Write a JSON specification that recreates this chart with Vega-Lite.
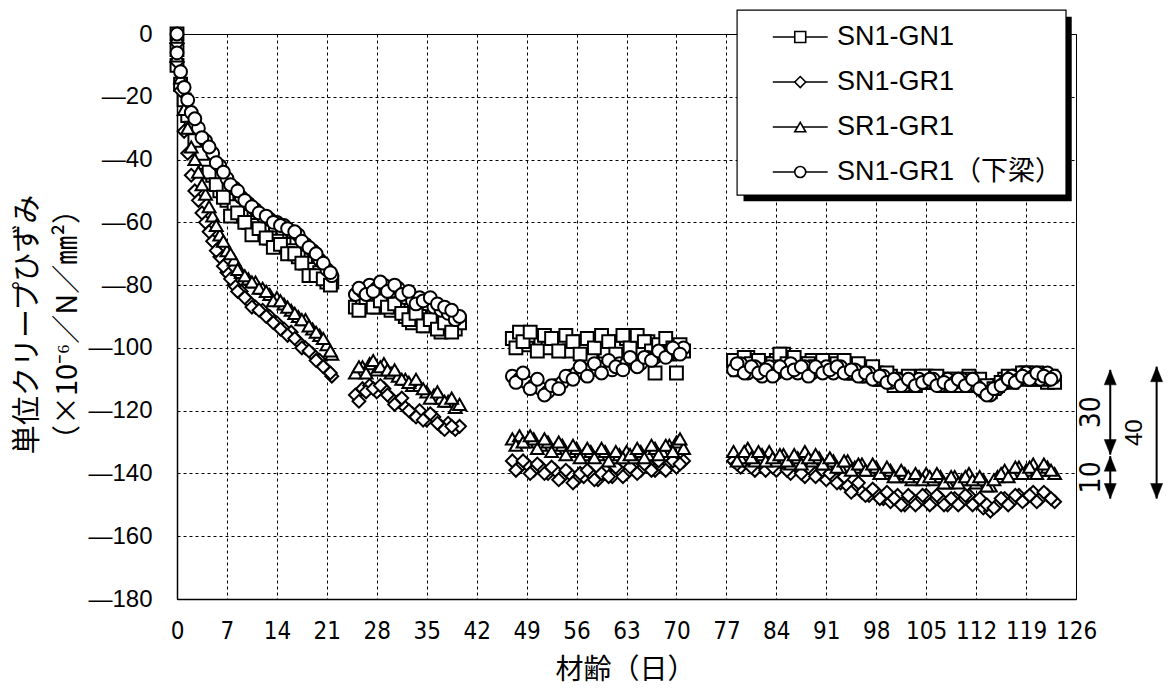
{
  "$schema": "https://vega.github.io/schema/vega-lite/v6.json",
  "width": 899,
  "height": 565,
  "autosize": {"type": "none"},
  "padding": {"left": 177, "top": 34, "right": 95, "bottom": 96},
  "background": "white",
  "config": {
    "view": {"stroke": "black", "strokeWidth": 1},
    "axis": {
      "grid": true,
      "gridColor": "black",
      "gridDash": [3, 3],
      "gridWidth": 1,
      "gridOpacity": 1,
      "domainColor": "black",
      "domainWidth": 1.5,
      "ticks": false,
      "labelColor": "black",
      "labelOverlap": false,
      "labelFlush": false,
      "titleColor": "black",
      "titleFontWeight": "normal",
      "titleFont": "Noto Sans CJK JP"
    }
  },
  "datasets": {
    "creep": [
      {"s":"SN1-GN1","d":0,"v":0},{"s":"SN1-GN1","d":0,"v":-5},{"s":"SN1-GN1","d":0,"v":-10},{"s":"SN1-GN1","d":0.5,"v":-16},{"s":"SN1-GN1","d":1,"v":-21},{"s":"SN1-GN1","d":1.5,"v":-26},{"s":"SN1-GN1","d":2,"v":-30},{"s":"SN1-GN1","d":3,"v":-36},{"s":"SN1-GN1","d":4,"v":-41},{"s":"SN1-GN1","d":5,"v":-45},{"s":"SN1-GN1","d":6,"v":-50},{"s":"SN1-GN1","d":7,"v":-53},{"s":"SN1-GN1","d":8,"v":-55},{"s":"SN1-GN1","d":9,"v":-58},{"s":"SN1-GN1","d":10,"v":-60},{"s":"SN1-GN1","d":11,"v":-61},{"s":"SN1-GN1","d":12,"v":-63},{"s":"SN1-GN1","d":13,"v":-65},{"s":"SN1-GN1","d":14,"v":-66},{"s":"SN1-GN1","d":15,"v":-67},{"s":"SN1-GN1","d":16,"v":-69},{"s":"SN1-GN1","d":17,"v":-71},{"s":"SN1-GN1","d":18,"v":-73},{"s":"SN1-GN1","d":19,"v":-75},{"s":"SN1-GN1","d":20,"v":-76},{"s":"SN1-GN1","d":21,"v":-79},{"s":"SN1-GN1","d":21.7,"v":-79},
      {"s":"SN1-GN1","d":2.5,"v":-34},{"s":"SN1-GN1","d":3.5,"v":-38},{"s":"SN1-GN1","d":4.5,"v":-44},{"s":"SN1-GN1","d":5.5,"v":-48},{"s":"SN1-GN1","d":6.5,"v":-52},{"s":"SN1-GN1","d":7.5,"v":-58},{"s":"SN1-GN1","d":8.5,"v":-57},{"s":"SN1-GN1","d":9.5,"v":-60},{"s":"SN1-GN1","d":10.5,"v":-64},{"s":"SN1-GN1","d":11.5,"v":-62},{"s":"SN1-GN1","d":12.5,"v":-65},{"s":"SN1-GN1","d":13.5,"v":-68},{"s":"SN1-GN1","d":14.5,"v":-67},{"s":"SN1-GN1","d":15.5,"v":-70},{"s":"SN1-GN1","d":16.5,"v":-70},{"s":"SN1-GN1","d":17.5,"v":-73},{"s":"SN1-GN1","d":18.5,"v":-77},{"s":"SN1-GN1","d":19.5,"v":-77},{"s":"SN1-GN1","d":20.5,"v":-78},{"s":"SN1-GN1","d":21.5,"v":-80},
      {"s":"SN1-GN1","d":25,"v":-87},{"s":"SN1-GN1","d":26,"v":-86},{"s":"SN1-GN1","d":27,"v":-85},{"s":"SN1-GN1","d":28,"v":-87},{"s":"SN1-GN1","d":29,"v":-85},{"s":"SN1-GN1","d":30,"v":-88},{"s":"SN1-GN1","d":31,"v":-87},{"s":"SN1-GN1","d":32,"v":-90},{"s":"SN1-GN1","d":33,"v":-92},{"s":"SN1-GN1","d":34,"v":-90},{"s":"SN1-GN1","d":35,"v":-93},{"s":"SN1-GN1","d":36,"v":-92},{"s":"SN1-GN1","d":37,"v":-95},{"s":"SN1-GN1","d":38,"v":-93},{"s":"SN1-GN1","d":39,"v":-94},{"s":"SN1-GN1","d":39.6,"v":-92},
      {"s":"SN1-GN1","d":25.5,"v":-88},{"s":"SN1-GN1","d":26.5,"v":-84},{"s":"SN1-GN1","d":27.5,"v":-87},{"s":"SN1-GN1","d":28.5,"v":-85},{"s":"SN1-GN1","d":29.5,"v":-87},{"s":"SN1-GN1","d":30.5,"v":-86},{"s":"SN1-GN1","d":31.5,"v":-89},{"s":"SN1-GN1","d":32.5,"v":-91},{"s":"SN1-GN1","d":33.5,"v":-89},{"s":"SN1-GN1","d":34.5,"v":-93},{"s":"SN1-GN1","d":35.5,"v":-91},{"s":"SN1-GN1","d":36.5,"v":-94},{"s":"SN1-GN1","d":37.5,"v":-92},{"s":"SN1-GN1","d":38.5,"v":-95},
      {"s":"SN1-GN1","d":47,"v":-97},{"s":"SN1-GN1","d":48,"v":-95},{"s":"SN1-GN1","d":49,"v":-99},{"s":"SN1-GN1","d":50,"v":-96},{"s":"SN1-GN1","d":51,"v":-98},{"s":"SN1-GN1","d":52,"v":-100},{"s":"SN1-GN1","d":53,"v":-97},{"s":"SN1-GN1","d":54,"v":-99},{"s":"SN1-GN1","d":55,"v":-101},{"s":"SN1-GN1","d":56,"v":-98},{"s":"SN1-GN1","d":57,"v":-100},{"s":"SN1-GN1","d":58,"v":-103},{"s":"SN1-GN1","d":59,"v":-99},{"s":"SN1-GN1","d":60,"v":-101},{"s":"SN1-GN1","d":61,"v":-98},{"s":"SN1-GN1","d":62,"v":-100},{"s":"SN1-GN1","d":63,"v":-97},{"s":"SN1-GN1","d":64,"v":-99},{"s":"SN1-GN1","d":65,"v":-101},{"s":"SN1-GN1","d":66,"v":-98},{"s":"SN1-GN1","d":67,"v":-108},{"s":"SN1-GN1","d":68,"v":-100},{"s":"SN1-GN1","d":69,"v":-102},{"s":"SN1-GN1","d":70,"v":-108},{"s":"SN1-GN1","d":71,"v":-101},
      {"s":"SN1-GN1","d":47.5,"v":-100},{"s":"SN1-GN1","d":48.5,"v":-98},{"s":"SN1-GN1","d":49.5,"v":-95},{"s":"SN1-GN1","d":50.5,"v":-101},{"s":"SN1-GN1","d":51.5,"v":-96},{"s":"SN1-GN1","d":52.5,"v":-97},{"s":"SN1-GN1","d":53.5,"v":-101},{"s":"SN1-GN1","d":54.5,"v":-96},{"s":"SN1-GN1","d":55.5,"v":-98},{"s":"SN1-GN1","d":56.5,"v":-102},{"s":"SN1-GN1","d":57.5,"v":-97},{"s":"SN1-GN1","d":58.5,"v":-100},{"s":"SN1-GN1","d":59.5,"v":-96},{"s":"SN1-GN1","d":60.5,"v":-98},{"s":"SN1-GN1","d":61.5,"v":-102},{"s":"SN1-GN1","d":62.5,"v":-96},{"s":"SN1-GN1","d":63.5,"v":-100},{"s":"SN1-GN1","d":64.5,"v":-96},{"s":"SN1-GN1","d":65.5,"v":-98},{"s":"SN1-GN1","d":66.5,"v":-101},{"s":"SN1-GN1","d":67.5,"v":-99},{"s":"SN1-GN1","d":68.5,"v":-97},{"s":"SN1-GN1","d":69.5,"v":-100},{"s":"SN1-GN1","d":70.5,"v":-99},
      {"s":"SN1-GN1","d":78,"v":-104},{"s":"SN1-GN1","d":79,"v":-106},{"s":"SN1-GN1","d":80,"v":-103},{"s":"SN1-GN1","d":81,"v":-107},{"s":"SN1-GN1","d":82,"v":-105},{"s":"SN1-GN1","d":83,"v":-108},{"s":"SN1-GN1","d":84,"v":-104},{"s":"SN1-GN1","d":85,"v":-102},{"s":"SN1-GN1","d":86,"v":-106},{"s":"SN1-GN1","d":87,"v":-105},{"s":"SN1-GN1","d":88,"v":-107},{"s":"SN1-GN1","d":89,"v":-104},{"s":"SN1-GN1","d":90,"v":-106},{"s":"SN1-GN1","d":91,"v":-105},{"s":"SN1-GN1","d":92,"v":-104},{"s":"SN1-GN1","d":93,"v":-107},{"s":"SN1-GN1","d":94,"v":-106},{"s":"SN1-GN1","d":95,"v":-108},{"s":"SN1-GN1","d":96,"v":-107},{"s":"SN1-GN1","d":97,"v":-109},{"s":"SN1-GN1","d":98,"v":-108},{"s":"SN1-GN1","d":99,"v":-110},{"s":"SN1-GN1","d":100,"v":-109},{"s":"SN1-GN1","d":101,"v":-111},{"s":"SN1-GN1","d":102,"v":-112},{"s":"SN1-GN1","d":103,"v":-110},{"s":"SN1-GN1","d":104,"v":-111},{"s":"SN1-GN1","d":105,"v":-109},{"s":"SN1-GN1","d":106,"v":-111},{"s":"SN1-GN1","d":107,"v":-110},{"s":"SN1-GN1","d":108,"v":-112},{"s":"SN1-GN1","d":109,"v":-110},{"s":"SN1-GN1","d":110,"v":-111},{"s":"SN1-GN1","d":111,"v":-109},{"s":"SN1-GN1","d":112,"v":-111},{"s":"SN1-GN1","d":113,"v":-113},{"s":"SN1-GN1","d":114,"v":-114},{"s":"SN1-GN1","d":115,"v":-112},{"s":"SN1-GN1","d":116,"v":-110},{"s":"SN1-GN1","d":117,"v":-111},{"s":"SN1-GN1","d":118,"v":-109},{"s":"SN1-GN1","d":119,"v":-108},{"s":"SN1-GN1","d":120,"v":-110},{"s":"SN1-GN1","d":121,"v":-109},{"s":"SN1-GN1","d":122,"v":-111},{"s":"SN1-GN1","d":123,"v":-111},
      {"s":"SN1-GN1","d":78.5,"v":-107},{"s":"SN1-GN1","d":79.5,"v":-103},{"s":"SN1-GN1","d":80.5,"v":-105},{"s":"SN1-GN1","d":81.5,"v":-104},{"s":"SN1-GN1","d":82.5,"v":-107},{"s":"SN1-GN1","d":83.5,"v":-105},{"s":"SN1-GN1","d":84.5,"v":-102},{"s":"SN1-GN1","d":85.5,"v":-105},{"s":"SN1-GN1","d":86.5,"v":-103},{"s":"SN1-GN1","d":87.5,"v":-107},{"s":"SN1-GN1","d":88.5,"v":-105},{"s":"SN1-GN1","d":89.5,"v":-106},{"s":"SN1-GN1","d":90.5,"v":-104},{"s":"SN1-GN1","d":91.5,"v":-107},{"s":"SN1-GN1","d":92.5,"v":-105},{"s":"SN1-GN1","d":93.5,"v":-104},{"s":"SN1-GN1","d":94.5,"v":-108},{"s":"SN1-GN1","d":95.5,"v":-105},{"s":"SN1-GN1","d":96.5,"v":-108},{"s":"SN1-GN1","d":97.5,"v":-106},{"s":"SN1-GN1","d":98.5,"v":-110},{"s":"SN1-GN1","d":99.5,"v":-108},{"s":"SN1-GN1","d":100.5,"v":-112},{"s":"SN1-GN1","d":101.5,"v":-110},{"s":"SN1-GN1","d":102.5,"v":-109},{"s":"SN1-GN1","d":103.5,"v":-112},{"s":"SN1-GN1","d":104.5,"v":-109},{"s":"SN1-GN1","d":105.5,"v":-111},{"s":"SN1-GN1","d":106.5,"v":-109},{"s":"SN1-GN1","d":107.5,"v":-112},{"s":"SN1-GN1","d":108.5,"v":-110},{"s":"SN1-GN1","d":109.5,"v":-112},{"s":"SN1-GN1","d":110.5,"v":-110},{"s":"SN1-GN1","d":111.5,"v":-112},{"s":"SN1-GN1","d":112.5,"v":-110},{"s":"SN1-GN1","d":113.5,"v":-112},{"s":"SN1-GN1","d":114.5,"v":-113},{"s":"SN1-GN1","d":115.5,"v":-111},{"s":"SN1-GN1","d":116.5,"v":-109},{"s":"SN1-GN1","d":117.5,"v":-110},{"s":"SN1-GN1","d":118.5,"v":-108},{"s":"SN1-GN1","d":119.5,"v":-110},{"s":"SN1-GN1","d":120.5,"v":-108},{"s":"SN1-GN1","d":121.5,"v":-110},{"s":"SN1-GN1","d":122.5,"v":-109},

      {"s":"SN1-GR1","d":0,"v":-3},{"s":"SN1-GR1","d":0,"v":-9},{"s":"SN1-GR1","d":0.5,"v":-18},{"s":"SN1-GR1","d":1,"v":-31},{"s":"SN1-GR1","d":1.5,"v":-38},{"s":"SN1-GR1","d":2,"v":-45},{"s":"SN1-GR1","d":3,"v":-53},{"s":"SN1-GR1","d":4,"v":-60},{"s":"SN1-GR1","d":5,"v":-66},{"s":"SN1-GR1","d":6,"v":-71},{"s":"SN1-GR1","d":7,"v":-76},{"s":"SN1-GR1","d":8,"v":-80},{"s":"SN1-GR1","d":9,"v":-82},{"s":"SN1-GR1","d":10,"v":-85},{"s":"SN1-GR1","d":11,"v":-87},{"s":"SN1-GR1","d":12,"v":-88},{"s":"SN1-GR1","d":13,"v":-90},{"s":"SN1-GR1","d":14,"v":-92},{"s":"SN1-GR1","d":15,"v":-94},{"s":"SN1-GR1","d":16,"v":-95},{"s":"SN1-GR1","d":17,"v":-98},{"s":"SN1-GR1","d":18,"v":-100},{"s":"SN1-GR1","d":19,"v":-102},{"s":"SN1-GR1","d":20,"v":-104},{"s":"SN1-GR1","d":21,"v":-107},{"s":"SN1-GR1","d":21.7,"v":-109},
      {"s":"SN1-GR1","d":2.5,"v":-50},{"s":"SN1-GR1","d":3.5,"v":-57},{"s":"SN1-GR1","d":4.5,"v":-63},{"s":"SN1-GR1","d":5.5,"v":-69},{"s":"SN1-GR1","d":6.5,"v":-74},{"s":"SN1-GR1","d":7.5,"v":-78},{"s":"SN1-GR1","d":8.5,"v":-82},{"s":"SN1-GR1","d":9.5,"v":-84},{"s":"SN1-GR1","d":10.5,"v":-87},{"s":"SN1-GR1","d":11.5,"v":-88},{"s":"SN1-GR1","d":12.5,"v":-90},{"s":"SN1-GR1","d":13.5,"v":-92},{"s":"SN1-GR1","d":14.5,"v":-94},{"s":"SN1-GR1","d":15.5,"v":-96},{"s":"SN1-GR1","d":16.5,"v":-97},{"s":"SN1-GR1","d":17.5,"v":-100},{"s":"SN1-GR1","d":18.5,"v":-101},{"s":"SN1-GR1","d":19.5,"v":-104},{"s":"SN1-GR1","d":20.5,"v":-106},{"s":"SN1-GR1","d":21.5,"v":-108},
      {"s":"SN1-GR1","d":25,"v":-115},{"s":"SN1-GR1","d":26,"v":-113},{"s":"SN1-GR1","d":27,"v":-112},{"s":"SN1-GR1","d":28,"v":-114},{"s":"SN1-GR1","d":29,"v":-113},{"s":"SN1-GR1","d":30,"v":-116},{"s":"SN1-GR1","d":31,"v":-117},{"s":"SN1-GR1","d":32,"v":-119},{"s":"SN1-GR1","d":33,"v":-121},{"s":"SN1-GR1","d":34,"v":-120},{"s":"SN1-GR1","d":35,"v":-123},{"s":"SN1-GR1","d":36,"v":-122},{"s":"SN1-GR1","d":37,"v":-125},{"s":"SN1-GR1","d":38,"v":-124},{"s":"SN1-GR1","d":39,"v":-126},{"s":"SN1-GR1","d":39.6,"v":-125},
      {"s":"SN1-GR1","d":25.5,"v":-117},{"s":"SN1-GR1","d":26.5,"v":-114},{"s":"SN1-GR1","d":27.5,"v":-113},{"s":"SN1-GR1","d":28.5,"v":-112},{"s":"SN1-GR1","d":29.5,"v":-115},{"s":"SN1-GR1","d":30.5,"v":-118},{"s":"SN1-GR1","d":31.5,"v":-116},{"s":"SN1-GR1","d":32.5,"v":-120},{"s":"SN1-GR1","d":33.5,"v":-122},{"s":"SN1-GR1","d":34.5,"v":-123},{"s":"SN1-GR1","d":35.5,"v":-121},{"s":"SN1-GR1","d":36.5,"v":-124},{"s":"SN1-GR1","d":37.5,"v":-126},{"s":"SN1-GR1","d":38.5,"v":-125},
      {"s":"SN1-GR1","d":47,"v":-136},{"s":"SN1-GR1","d":48,"v":-138},{"s":"SN1-GR1","d":49,"v":-137},{"s":"SN1-GR1","d":50,"v":-139},{"s":"SN1-GR1","d":51,"v":-138},{"s":"SN1-GR1","d":52,"v":-140},{"s":"SN1-GR1","d":53,"v":-139},{"s":"SN1-GR1","d":54,"v":-141},{"s":"SN1-GR1","d":55,"v":-140},{"s":"SN1-GR1","d":56,"v":-142},{"s":"SN1-GR1","d":57,"v":-141},{"s":"SN1-GR1","d":58,"v":-140},{"s":"SN1-GR1","d":59,"v":-142},{"s":"SN1-GR1","d":60,"v":-139},{"s":"SN1-GR1","d":61,"v":-141},{"s":"SN1-GR1","d":62,"v":-139},{"s":"SN1-GR1","d":63,"v":-140},{"s":"SN1-GR1","d":64,"v":-138},{"s":"SN1-GR1","d":65,"v":-139},{"s":"SN1-GR1","d":66,"v":-137},{"s":"SN1-GR1","d":67,"v":-139},{"s":"SN1-GR1","d":68,"v":-138},{"s":"SN1-GR1","d":69,"v":-137},{"s":"SN1-GR1","d":70,"v":-138},{"s":"SN1-GR1","d":71,"v":-136},
      {"s":"SN1-GR1","d":47.5,"v":-139},{"s":"SN1-GR1","d":48.5,"v":-136},{"s":"SN1-GR1","d":49.5,"v":-140},{"s":"SN1-GR1","d":50.5,"v":-137},{"s":"SN1-GR1","d":51.5,"v":-140},{"s":"SN1-GR1","d":52.5,"v":-138},{"s":"SN1-GR1","d":53.5,"v":-142},{"s":"SN1-GR1","d":54.5,"v":-139},{"s":"SN1-GR1","d":55.5,"v":-143},{"s":"SN1-GR1","d":56.5,"v":-140},{"s":"SN1-GR1","d":57.5,"v":-139},{"s":"SN1-GR1","d":58.5,"v":-142},{"s":"SN1-GR1","d":59.5,"v":-140},{"s":"SN1-GR1","d":60.5,"v":-141},{"s":"SN1-GR1","d":61.5,"v":-138},{"s":"SN1-GR1","d":62.5,"v":-141},{"s":"SN1-GR1","d":63.5,"v":-138},{"s":"SN1-GR1","d":64.5,"v":-140},{"s":"SN1-GR1","d":65.5,"v":-137},{"s":"SN1-GR1","d":66.5,"v":-139},{"s":"SN1-GR1","d":67.5,"v":-136},{"s":"SN1-GR1","d":68.5,"v":-139},{"s":"SN1-GR1","d":69.5,"v":-136},{"s":"SN1-GR1","d":70.5,"v":-137},
      {"s":"SN1-GR1","d":78,"v":-136},{"s":"SN1-GR1","d":79,"v":-138},{"s":"SN1-GR1","d":80,"v":-135},{"s":"SN1-GR1","d":81,"v":-139},{"s":"SN1-GR1","d":82,"v":-137},{"s":"SN1-GR1","d":83,"v":-136},{"s":"SN1-GR1","d":84,"v":-139},{"s":"SN1-GR1","d":85,"v":-137},{"s":"SN1-GR1","d":86,"v":-140},{"s":"SN1-GR1","d":87,"v":-138},{"s":"SN1-GR1","d":88,"v":-141},{"s":"SN1-GR1","d":89,"v":-139},{"s":"SN1-GR1","d":90,"v":-140},{"s":"SN1-GR1","d":91,"v":-142},{"s":"SN1-GR1","d":92,"v":-141},{"s":"SN1-GR1","d":93,"v":-143},{"s":"SN1-GR1","d":94,"v":-144},{"s":"SN1-GR1","d":95,"v":-145},{"s":"SN1-GR1","d":96,"v":-146},{"s":"SN1-GR1","d":97,"v":-147},{"s":"SN1-GR1","d":98,"v":-146},{"s":"SN1-GR1","d":99,"v":-148},{"s":"SN1-GR1","d":100,"v":-149},{"s":"SN1-GR1","d":101,"v":-147},{"s":"SN1-GR1","d":102,"v":-150},{"s":"SN1-GR1","d":103,"v":-148},{"s":"SN1-GR1","d":104,"v":-149},{"s":"SN1-GR1","d":105,"v":-147},{"s":"SN1-GR1","d":106,"v":-149},{"s":"SN1-GR1","d":107,"v":-148},{"s":"SN1-GR1","d":108,"v":-150},{"s":"SN1-GR1","d":109,"v":-148},{"s":"SN1-GR1","d":110,"v":-149},{"s":"SN1-GR1","d":111,"v":-147},{"s":"SN1-GR1","d":112,"v":-149},{"s":"SN1-GR1","d":113,"v":-151},{"s":"SN1-GR1","d":114,"v":-152},{"s":"SN1-GR1","d":115,"v":-150},{"s":"SN1-GR1","d":116,"v":-148},{"s":"SN1-GR1","d":117,"v":-149},{"s":"SN1-GR1","d":118,"v":-147},{"s":"SN1-GR1","d":119,"v":-148},{"s":"SN1-GR1","d":120,"v":-146},{"s":"SN1-GR1","d":121,"v":-148},{"s":"SN1-GR1","d":122,"v":-147},{"s":"SN1-GR1","d":123,"v":-149},
      {"s":"SN1-GR1","d":78.5,"v":-137},{"s":"SN1-GR1","d":79.5,"v":-136},{"s":"SN1-GR1","d":80.5,"v":-138},{"s":"SN1-GR1","d":81.5,"v":-136},{"s":"SN1-GR1","d":82.5,"v":-139},{"s":"SN1-GR1","d":83.5,"v":-138},{"s":"SN1-GR1","d":84.5,"v":-136},{"s":"SN1-GR1","d":85.5,"v":-139},{"s":"SN1-GR1","d":86.5,"v":-137},{"s":"SN1-GR1","d":87.5,"v":-140},{"s":"SN1-GR1","d":88.5,"v":-138},{"s":"SN1-GR1","d":89.5,"v":-141},{"s":"SN1-GR1","d":90.5,"v":-139},{"s":"SN1-GR1","d":91.5,"v":-140},{"s":"SN1-GR1","d":92.5,"v":-143},{"s":"SN1-GR1","d":93.5,"v":-141},{"s":"SN1-GR1","d":94.5,"v":-146},{"s":"SN1-GR1","d":95.5,"v":-143},{"s":"SN1-GR1","d":96.5,"v":-147},{"s":"SN1-GR1","d":97.5,"v":-145},{"s":"SN1-GR1","d":98.5,"v":-148},{"s":"SN1-GR1","d":99.5,"v":-146},{"s":"SN1-GR1","d":100.5,"v":-148},{"s":"SN1-GR1","d":101.5,"v":-150},{"s":"SN1-GR1","d":102.5,"v":-147},{"s":"SN1-GR1","d":103.5,"v":-150},{"s":"SN1-GR1","d":104.5,"v":-147},{"s":"SN1-GR1","d":105.5,"v":-150},{"s":"SN1-GR1","d":106.5,"v":-147},{"s":"SN1-GR1","d":107.5,"v":-150},{"s":"SN1-GR1","d":108.5,"v":-148},{"s":"SN1-GR1","d":109.5,"v":-150},{"s":"SN1-GR1","d":110.5,"v":-147},{"s":"SN1-GR1","d":111.5,"v":-150},{"s":"SN1-GR1","d":112.5,"v":-148},{"s":"SN1-GR1","d":113.5,"v":-150},{"s":"SN1-GR1","d":114.5,"v":-151},{"s":"SN1-GR1","d":115.5,"v":-148},{"s":"SN1-GR1","d":116.5,"v":-150},{"s":"SN1-GR1","d":117.5,"v":-147},{"s":"SN1-GR1","d":118.5,"v":-149},{"s":"SN1-GR1","d":119.5,"v":-147},{"s":"SN1-GR1","d":120.5,"v":-149},{"s":"SN1-GR1","d":121.5,"v":-146},{"s":"SN1-GR1","d":122.5,"v":-148},

      {"s":"SR1-GR1","d":0,"v":-1},{"s":"SR1-GR1","d":0,"v":-7},{"s":"SR1-GR1","d":0.5,"v":-14},{"s":"SR1-GR1","d":1,"v":-24},{"s":"SR1-GR1","d":1.5,"v":-30},{"s":"SR1-GR1","d":2,"v":-36},{"s":"SR1-GR1","d":3,"v":-44},{"s":"SR1-GR1","d":4,"v":-51},{"s":"SR1-GR1","d":5,"v":-58},{"s":"SR1-GR1","d":6,"v":-64},{"s":"SR1-GR1","d":7,"v":-69},{"s":"SR1-GR1","d":8,"v":-72},{"s":"SR1-GR1","d":9,"v":-76},{"s":"SR1-GR1","d":10,"v":-78},{"s":"SR1-GR1","d":11,"v":-79},{"s":"SR1-GR1","d":12,"v":-81},{"s":"SR1-GR1","d":13,"v":-83},{"s":"SR1-GR1","d":14,"v":-84},{"s":"SR1-GR1","d":15,"v":-86},{"s":"SR1-GR1","d":16,"v":-88},{"s":"SR1-GR1","d":17,"v":-90},{"s":"SR1-GR1","d":18,"v":-91},{"s":"SR1-GR1","d":19,"v":-94},{"s":"SR1-GR1","d":20,"v":-96},{"s":"SR1-GR1","d":21,"v":-99},{"s":"SR1-GR1","d":21.7,"v":-102},
      {"s":"SR1-GR1","d":2.5,"v":-40},{"s":"SR1-GR1","d":3.5,"v":-48},{"s":"SR1-GR1","d":4.5,"v":-55},{"s":"SR1-GR1","d":5.5,"v":-61},{"s":"SR1-GR1","d":6.5,"v":-66},{"s":"SR1-GR1","d":7.5,"v":-70},{"s":"SR1-GR1","d":8.5,"v":-75},{"s":"SR1-GR1","d":9.5,"v":-77},{"s":"SR1-GR1","d":10.5,"v":-79},{"s":"SR1-GR1","d":11.5,"v":-81},{"s":"SR1-GR1","d":12.5,"v":-82},{"s":"SR1-GR1","d":13.5,"v":-85},{"s":"SR1-GR1","d":14.5,"v":-85},{"s":"SR1-GR1","d":15.5,"v":-87},{"s":"SR1-GR1","d":16.5,"v":-89},{"s":"SR1-GR1","d":17.5,"v":-91},{"s":"SR1-GR1","d":18.5,"v":-93},{"s":"SR1-GR1","d":19.5,"v":-95},{"s":"SR1-GR1","d":20.5,"v":-97},{"s":"SR1-GR1","d":21.5,"v":-101},
      {"s":"SR1-GR1","d":25,"v":-108},{"s":"SR1-GR1","d":26,"v":-106},{"s":"SR1-GR1","d":27,"v":-105},{"s":"SR1-GR1","d":28,"v":-107},{"s":"SR1-GR1","d":29,"v":-105},{"s":"SR1-GR1","d":30,"v":-108},{"s":"SR1-GR1","d":31,"v":-109},{"s":"SR1-GR1","d":32,"v":-110},{"s":"SR1-GR1","d":33,"v":-112},{"s":"SR1-GR1","d":34,"v":-112},{"s":"SR1-GR1","d":35,"v":-114},{"s":"SR1-GR1","d":36,"v":-115},{"s":"SR1-GR1","d":37,"v":-116},{"s":"SR1-GR1","d":38,"v":-117},{"s":"SR1-GR1","d":39,"v":-119},{"s":"SR1-GR1","d":39.6,"v":-118},
      {"s":"SR1-GR1","d":25.5,"v":-106},{"s":"SR1-GR1","d":26.5,"v":-108},{"s":"SR1-GR1","d":27.5,"v":-104},{"s":"SR1-GR1","d":28.5,"v":-106},{"s":"SR1-GR1","d":29.5,"v":-107},{"s":"SR1-GR1","d":30.5,"v":-107},{"s":"SR1-GR1","d":31.5,"v":-110},{"s":"SR1-GR1","d":32.5,"v":-111},{"s":"SR1-GR1","d":33.5,"v":-110},{"s":"SR1-GR1","d":34.5,"v":-113},{"s":"SR1-GR1","d":35.5,"v":-116},{"s":"SR1-GR1","d":36.5,"v":-114},{"s":"SR1-GR1","d":37.5,"v":-117},{"s":"SR1-GR1","d":38.5,"v":-116},
      {"s":"SR1-GR1","d":47,"v":-129},{"s":"SR1-GR1","d":48,"v":-128},{"s":"SR1-GR1","d":49,"v":-130},{"s":"SR1-GR1","d":50,"v":-129},{"s":"SR1-GR1","d":51,"v":-131},{"s":"SR1-GR1","d":52,"v":-130},{"s":"SR1-GR1","d":53,"v":-132},{"s":"SR1-GR1","d":54,"v":-131},{"s":"SR1-GR1","d":55,"v":-133},{"s":"SR1-GR1","d":56,"v":-132},{"s":"SR1-GR1","d":57,"v":-134},{"s":"SR1-GR1","d":58,"v":-133},{"s":"SR1-GR1","d":59,"v":-134},{"s":"SR1-GR1","d":60,"v":-133},{"s":"SR1-GR1","d":61,"v":-135},{"s":"SR1-GR1","d":62,"v":-134},{"s":"SR1-GR1","d":63,"v":-133},{"s":"SR1-GR1","d":64,"v":-135},{"s":"SR1-GR1","d":65,"v":-133},{"s":"SR1-GR1","d":66,"v":-134},{"s":"SR1-GR1","d":67,"v":-132},{"s":"SR1-GR1","d":68,"v":-133},{"s":"SR1-GR1","d":69,"v":-131},{"s":"SR1-GR1","d":70,"v":-130},{"s":"SR1-GR1","d":71,"v":-132},
      {"s":"SR1-GR1","d":47.5,"v":-131},{"s":"SR1-GR1","d":48.5,"v":-130},{"s":"SR1-GR1","d":49.5,"v":-128},{"s":"SR1-GR1","d":50.5,"v":-132},{"s":"SR1-GR1","d":51.5,"v":-129},{"s":"SR1-GR1","d":52.5,"v":-133},{"s":"SR1-GR1","d":53.5,"v":-130},{"s":"SR1-GR1","d":54.5,"v":-134},{"s":"SR1-GR1","d":55.5,"v":-131},{"s":"SR1-GR1","d":56.5,"v":-135},{"s":"SR1-GR1","d":57.5,"v":-132},{"s":"SR1-GR1","d":58.5,"v":-135},{"s":"SR1-GR1","d":59.5,"v":-132},{"s":"SR1-GR1","d":60.5,"v":-136},{"s":"SR1-GR1","d":61.5,"v":-133},{"s":"SR1-GR1","d":62.5,"v":-135},{"s":"SR1-GR1","d":63.5,"v":-134},{"s":"SR1-GR1","d":64.5,"v":-132},{"s":"SR1-GR1","d":65.5,"v":-135},{"s":"SR1-GR1","d":66.5,"v":-131},{"s":"SR1-GR1","d":67.5,"v":-134},{"s":"SR1-GR1","d":68.5,"v":-131},{"s":"SR1-GR1","d":69.5,"v":-133},{"s":"SR1-GR1","d":70.5,"v":-129},
      {"s":"SR1-GR1","d":78,"v":-133},{"s":"SR1-GR1","d":79,"v":-135},{"s":"SR1-GR1","d":80,"v":-132},{"s":"SR1-GR1","d":81,"v":-136},{"s":"SR1-GR1","d":82,"v":-134},{"s":"SR1-GR1","d":83,"v":-133},{"s":"SR1-GR1","d":84,"v":-136},{"s":"SR1-GR1","d":85,"v":-134},{"s":"SR1-GR1","d":86,"v":-137},{"s":"SR1-GR1","d":87,"v":-135},{"s":"SR1-GR1","d":88,"v":-133},{"s":"SR1-GR1","d":89,"v":-136},{"s":"SR1-GR1","d":90,"v":-135},{"s":"SR1-GR1","d":91,"v":-137},{"s":"SR1-GR1","d":92,"v":-136},{"s":"SR1-GR1","d":93,"v":-138},{"s":"SR1-GR1","d":94,"v":-136},{"s":"SR1-GR1","d":95,"v":-138},{"s":"SR1-GR1","d":96,"v":-137},{"s":"SR1-GR1","d":97,"v":-139},{"s":"SR1-GR1","d":98,"v":-138},{"s":"SR1-GR1","d":99,"v":-140},{"s":"SR1-GR1","d":100,"v":-139},{"s":"SR1-GR1","d":101,"v":-141},{"s":"SR1-GR1","d":102,"v":-140},{"s":"SR1-GR1","d":103,"v":-142},{"s":"SR1-GR1","d":104,"v":-141},{"s":"SR1-GR1","d":105,"v":-140},{"s":"SR1-GR1","d":106,"v":-142},{"s":"SR1-GR1","d":107,"v":-141},{"s":"SR1-GR1","d":108,"v":-143},{"s":"SR1-GR1","d":109,"v":-141},{"s":"SR1-GR1","d":110,"v":-142},{"s":"SR1-GR1","d":111,"v":-140},{"s":"SR1-GR1","d":112,"v":-143},{"s":"SR1-GR1","d":113,"v":-142},{"s":"SR1-GR1","d":114,"v":-144},{"s":"SR1-GR1","d":115,"v":-141},{"s":"SR1-GR1","d":116,"v":-139},{"s":"SR1-GR1","d":117,"v":-140},{"s":"SR1-GR1","d":118,"v":-138},{"s":"SR1-GR1","d":119,"v":-139},{"s":"SR1-GR1","d":120,"v":-137},{"s":"SR1-GR1","d":121,"v":-139},{"s":"SR1-GR1","d":122,"v":-138},{"s":"SR1-GR1","d":123,"v":-140},
      {"s":"SR1-GR1","d":78.5,"v":-136},{"s":"SR1-GR1","d":79.5,"v":-133},{"s":"SR1-GR1","d":80.5,"v":-135},{"s":"SR1-GR1","d":81.5,"v":-133},{"s":"SR1-GR1","d":82.5,"v":-136},{"s":"SR1-GR1","d":83.5,"v":-135},{"s":"SR1-GR1","d":84.5,"v":-134},{"s":"SR1-GR1","d":85.5,"v":-136},{"s":"SR1-GR1","d":86.5,"v":-134},{"s":"SR1-GR1","d":87.5,"v":-137},{"s":"SR1-GR1","d":88.5,"v":-135},{"s":"SR1-GR1","d":89.5,"v":-134},{"s":"SR1-GR1","d":90.5,"v":-137},{"s":"SR1-GR1","d":91.5,"v":-135},{"s":"SR1-GR1","d":92.5,"v":-138},{"s":"SR1-GR1","d":93.5,"v":-136},{"s":"SR1-GR1","d":94.5,"v":-139},{"s":"SR1-GR1","d":95.5,"v":-137},{"s":"SR1-GR1","d":96.5,"v":-139},{"s":"SR1-GR1","d":97.5,"v":-137},{"s":"SR1-GR1","d":98.5,"v":-140},{"s":"SR1-GR1","d":99.5,"v":-138},{"s":"SR1-GR1","d":100.5,"v":-141},{"s":"SR1-GR1","d":101.5,"v":-139},{"s":"SR1-GR1","d":102.5,"v":-141},{"s":"SR1-GR1","d":103.5,"v":-140},{"s":"SR1-GR1","d":104.5,"v":-142},{"s":"SR1-GR1","d":105.5,"v":-141},{"s":"SR1-GR1","d":106.5,"v":-140},{"s":"SR1-GR1","d":107.5,"v":-143},{"s":"SR1-GR1","d":108.5,"v":-141},{"s":"SR1-GR1","d":109.5,"v":-143},{"s":"SR1-GR1","d":110.5,"v":-141},{"s":"SR1-GR1","d":111.5,"v":-142},{"s":"SR1-GR1","d":112.5,"v":-141},{"s":"SR1-GR1","d":113.5,"v":-144},{"s":"SR1-GR1","d":114.5,"v":-142},{"s":"SR1-GR1","d":115.5,"v":-140},{"s":"SR1-GR1","d":116.5,"v":-141},{"s":"SR1-GR1","d":117.5,"v":-138},{"s":"SR1-GR1","d":118.5,"v":-140},{"s":"SR1-GR1","d":119.5,"v":-138},{"s":"SR1-GR1","d":120.5,"v":-140},{"s":"SR1-GR1","d":121.5,"v":-137},{"s":"SR1-GR1","d":122.5,"v":-139},

      {"s":"SN1-GR1（下梁）","d":0,"v":0},{"s":"SN1-GR1（下梁）","d":0,"v":-6},{"s":"SN1-GR1（下梁）","d":0.5,"v":-12},{"s":"SN1-GR1（下梁）","d":1,"v":-17},{"s":"SN1-GR1（下梁）","d":1.5,"v":-21},{"s":"SN1-GR1（下梁）","d":2,"v":-25},{"s":"SN1-GR1（下梁）","d":3,"v":-30},{"s":"SN1-GR1（下梁）","d":4,"v":-34},{"s":"SN1-GR1（下梁）","d":5,"v":-38},{"s":"SN1-GR1（下梁）","d":6,"v":-42},{"s":"SN1-GR1（下梁）","d":7,"v":-46},{"s":"SN1-GR1（下梁）","d":8,"v":-49},{"s":"SN1-GR1（下梁）","d":9,"v":-52},{"s":"SN1-GR1（下梁）","d":10,"v":-54},{"s":"SN1-GR1（下梁）","d":11,"v":-56},{"s":"SN1-GR1（下梁）","d":12,"v":-58},{"s":"SN1-GR1（下梁）","d":13,"v":-59},{"s":"SN1-GR1（下梁）","d":14,"v":-60},{"s":"SN1-GR1（下梁）","d":15,"v":-61},{"s":"SN1-GR1（下梁）","d":16,"v":-63},{"s":"SN1-GR1（下梁）","d":17,"v":-64},{"s":"SN1-GR1（下梁）","d":18,"v":-67},{"s":"SN1-GR1（下梁）","d":19,"v":-69},{"s":"SN1-GR1（下梁）","d":20,"v":-72},{"s":"SN1-GR1（下梁）","d":21,"v":-75},{"s":"SN1-GR1（下梁）","d":21.7,"v":-77},
      {"s":"SN1-GR1（下梁）","d":2.5,"v":-27},{"s":"SN1-GR1（下梁）","d":3.5,"v":-33},{"s":"SN1-GR1（下梁）","d":4.5,"v":-36},{"s":"SN1-GR1（下梁）","d":5.5,"v":-41},{"s":"SN1-GR1（下梁）","d":6.5,"v":-44},{"s":"SN1-GR1（下梁）","d":7.5,"v":-48},{"s":"SN1-GR1（下梁）","d":8.5,"v":-50},{"s":"SN1-GR1（下梁）","d":9.5,"v":-53},{"s":"SN1-GR1（下梁）","d":10.5,"v":-55},{"s":"SN1-GR1（下梁）","d":11.5,"v":-57},{"s":"SN1-GR1（下梁）","d":12.5,"v":-58},{"s":"SN1-GR1（下梁）","d":13.5,"v":-60},{"s":"SN1-GR1（下梁）","d":14.5,"v":-61},{"s":"SN1-GR1（下梁）","d":15.5,"v":-62},{"s":"SN1-GR1（下梁）","d":16.5,"v":-63},{"s":"SN1-GR1（下梁）","d":17.5,"v":-66},{"s":"SN1-GR1（下梁）","d":18.5,"v":-68},{"s":"SN1-GR1（下梁）","d":19.5,"v":-70},{"s":"SN1-GR1（下梁）","d":20.5,"v":-73},{"s":"SN1-GR1（下梁）","d":21.5,"v":-76},
      {"s":"SN1-GR1（下梁）","d":25,"v":-83},{"s":"SN1-GR1（下梁）","d":26,"v":-82},{"s":"SN1-GR1（下梁）","d":27,"v":-80},{"s":"SN1-GR1（下梁）","d":28,"v":-81},{"s":"SN1-GR1（下梁）","d":29,"v":-80},{"s":"SN1-GR1（下梁）","d":30,"v":-82},{"s":"SN1-GR1（下梁）","d":31,"v":-81},{"s":"SN1-GR1（下梁）","d":32,"v":-84},{"s":"SN1-GR1（下梁）","d":33,"v":-85},{"s":"SN1-GR1（下梁）","d":34,"v":-84},{"s":"SN1-GR1（下梁）","d":35,"v":-86},{"s":"SN1-GR1（下梁）","d":36,"v":-87},{"s":"SN1-GR1（下梁）","d":37,"v":-88},{"s":"SN1-GR1（下梁）","d":38,"v":-89},{"s":"SN1-GR1（下梁）","d":39,"v":-91},{"s":"SN1-GR1（下梁）","d":39.6,"v":-90},
      {"s":"SN1-GR1（下梁）","d":25.5,"v":-81},{"s":"SN1-GR1（下梁）","d":26.5,"v":-83},{"s":"SN1-GR1（下梁）","d":27.5,"v":-82},{"s":"SN1-GR1（下梁）","d":28.5,"v":-79},{"s":"SN1-GR1（下梁）","d":29.5,"v":-82},{"s":"SN1-GR1（下梁）","d":30.5,"v":-80},{"s":"SN1-GR1（下梁）","d":31.5,"v":-83},{"s":"SN1-GR1（下梁）","d":32.5,"v":-82},{"s":"SN1-GR1（下梁）","d":33.5,"v":-86},{"s":"SN1-GR1（下梁）","d":34.5,"v":-85},{"s":"SN1-GR1（下梁）","d":35.5,"v":-84},{"s":"SN1-GR1（下梁）","d":36.5,"v":-86},{"s":"SN1-GR1（下梁）","d":37.5,"v":-87},{"s":"SN1-GR1（下梁）","d":38.5,"v":-88},
      {"s":"SN1-GR1（下梁）","d":47,"v":-109},{"s":"SN1-GR1（下梁）","d":48,"v":-110},{"s":"SN1-GR1（下梁）","d":49,"v":-111},{"s":"SN1-GR1（下梁）","d":50,"v":-112},{"s":"SN1-GR1（下梁）","d":51,"v":-113},{"s":"SN1-GR1（下梁）","d":52,"v":-114},{"s":"SN1-GR1（下梁）","d":53,"v":-112},{"s":"SN1-GR1（下梁）","d":54,"v":-111},{"s":"SN1-GR1（下梁）","d":55,"v":-109},{"s":"SN1-GR1（下梁）","d":56,"v":-108},{"s":"SN1-GR1（下梁）","d":57,"v":-108},{"s":"SN1-GR1（下梁）","d":58,"v":-107},{"s":"SN1-GR1（下梁）","d":59,"v":-107},{"s":"SN1-GR1（下梁）","d":60,"v":-106},{"s":"SN1-GR1（下梁）","d":61,"v":-107},{"s":"SN1-GR1（下梁）","d":62,"v":-105},{"s":"SN1-GR1（下梁）","d":63,"v":-105},{"s":"SN1-GR1（下梁）","d":64,"v":-104},{"s":"SN1-GR1（下梁）","d":65,"v":-105},{"s":"SN1-GR1（下梁）","d":66,"v":-103},{"s":"SN1-GR1（下梁）","d":67,"v":-103},{"s":"SN1-GR1（下梁）","d":68,"v":-102},{"s":"SN1-GR1（下梁）","d":69,"v":-102},{"s":"SN1-GR1（下梁）","d":70,"v":-101},{"s":"SN1-GR1（下梁）","d":71,"v":-100},
      {"s":"SN1-GR1（下梁）","d":47.5,"v":-111},{"s":"SN1-GR1（下梁）","d":48.5,"v":-108},{"s":"SN1-GR1（下梁）","d":49.5,"v":-113},{"s":"SN1-GR1（下梁）","d":50.5,"v":-110},{"s":"SN1-GR1（下梁）","d":51.5,"v":-115},{"s":"SN1-GR1（下梁）","d":52.5,"v":-112},{"s":"SN1-GR1（下梁）","d":53.5,"v":-113},{"s":"SN1-GR1（下梁）","d":54.5,"v":-109},{"s":"SN1-GR1（下梁）","d":55.5,"v":-110},{"s":"SN1-GR1（下梁）","d":56.5,"v":-106},{"s":"SN1-GR1（下梁）","d":57.5,"v":-109},{"s":"SN1-GR1（下梁）","d":58.5,"v":-105},{"s":"SN1-GR1（下梁）","d":59.5,"v":-108},{"s":"SN1-GR1（下梁）","d":60.5,"v":-104},{"s":"SN1-GR1（下梁）","d":61.5,"v":-106},{"s":"SN1-GR1（下梁）","d":62.5,"v":-107},{"s":"SN1-GR1（下梁）","d":63.5,"v":-103},{"s":"SN1-GR1（下梁）","d":64.5,"v":-106},{"s":"SN1-GR1（下梁）","d":65.5,"v":-103},{"s":"SN1-GR1（下梁）","d":66.5,"v":-104},{"s":"SN1-GR1（下梁）","d":67.5,"v":-101},{"s":"SN1-GR1（下梁）","d":68.5,"v":-103},{"s":"SN1-GR1（下梁）","d":69.5,"v":-100},{"s":"SN1-GR1（下梁）","d":70.5,"v":-102},
      {"s":"SN1-GR1（下梁）","d":78,"v":-107},{"s":"SN1-GR1（下梁）","d":79,"v":-105},{"s":"SN1-GR1（下梁）","d":80,"v":-108},{"s":"SN1-GR1（下梁）","d":81,"v":-106},{"s":"SN1-GR1（下梁）","d":82,"v":-109},{"s":"SN1-GR1（下梁）","d":83,"v":-106},{"s":"SN1-GR1（下梁）","d":84,"v":-108},{"s":"SN1-GR1（下梁）","d":85,"v":-107},{"s":"SN1-GR1（下梁）","d":86,"v":-105},{"s":"SN1-GR1（下梁）","d":87,"v":-108},{"s":"SN1-GR1（下梁）","d":88,"v":-106},{"s":"SN1-GR1（下梁）","d":89,"v":-108},{"s":"SN1-GR1（下梁）","d":90,"v":-107},{"s":"SN1-GR1（下梁）","d":91,"v":-106},{"s":"SN1-GR1（下梁）","d":92,"v":-108},{"s":"SN1-GR1（下梁）","d":93,"v":-106},{"s":"SN1-GR1（下梁）","d":94,"v":-108},{"s":"SN1-GR1（下梁）","d":95,"v":-107},{"s":"SN1-GR1（下梁）","d":96,"v":-109},{"s":"SN1-GR1（下梁）","d":97,"v":-108},{"s":"SN1-GR1（下梁）","d":98,"v":-110},{"s":"SN1-GR1（下梁）","d":99,"v":-109},{"s":"SN1-GR1（下梁）","d":100,"v":-111},{"s":"SN1-GR1（下梁）","d":101,"v":-110},{"s":"SN1-GR1（下梁）","d":102,"v":-112},{"s":"SN1-GR1（下梁）","d":103,"v":-111},{"s":"SN1-GR1（下梁）","d":104,"v":-110},{"s":"SN1-GR1（下梁）","d":105,"v":-111},{"s":"SN1-GR1（下梁）","d":106,"v":-110},{"s":"SN1-GR1（下梁）","d":107,"v":-112},{"s":"SN1-GR1（下梁）","d":108,"v":-110},{"s":"SN1-GR1（下梁）","d":109,"v":-111},{"s":"SN1-GR1（下梁）","d":110,"v":-110},{"s":"SN1-GR1（下梁）","d":111,"v":-111},{"s":"SN1-GR1（下梁）","d":112,"v":-112},{"s":"SN1-GR1（下梁）","d":113,"v":-114},{"s":"SN1-GR1（下梁）","d":114,"v":-115},{"s":"SN1-GR1（下梁）","d":115,"v":-113},{"s":"SN1-GR1（下梁）","d":116,"v":-111},{"s":"SN1-GR1（下梁）","d":117,"v":-109},{"s":"SN1-GR1（下梁）","d":118,"v":-110},{"s":"SN1-GR1（下梁）","d":119,"v":-108},{"s":"SN1-GR1（下梁）","d":120,"v":-109},{"s":"SN1-GR1（下梁）","d":121,"v":-110},{"s":"SN1-GR1（下梁）","d":122,"v":-108},{"s":"SN1-GR1（下梁）","d":123,"v":-109},
      {"s":"SN1-GR1（下梁）","d":78.5,"v":-105},{"s":"SN1-GR1（下梁）","d":79.5,"v":-108},{"s":"SN1-GR1（下梁）","d":80.5,"v":-106},{"s":"SN1-GR1（下梁）","d":81.5,"v":-108},{"s":"SN1-GR1（下梁）","d":82.5,"v":-107},{"s":"SN1-GR1（下梁）","d":83.5,"v":-109},{"s":"SN1-GR1（下梁）","d":84.5,"v":-106},{"s":"SN1-GR1（下梁）","d":85.5,"v":-108},{"s":"SN1-GR1（下梁）","d":86.5,"v":-107},{"s":"SN1-GR1（下梁）","d":87.5,"v":-106},{"s":"SN1-GR1（下梁）","d":88.5,"v":-109},{"s":"SN1-GR1（下梁）","d":89.5,"v":-106},{"s":"SN1-GR1（下梁）","d":90.5,"v":-108},{"s":"SN1-GR1（下梁）","d":91.5,"v":-107},{"s":"SN1-GR1（下梁）","d":92.5,"v":-106},{"s":"SN1-GR1（下梁）","d":93.5,"v":-108},{"s":"SN1-GR1（下梁）","d":94.5,"v":-107},{"s":"SN1-GR1（下梁）","d":95.5,"v":-109},{"s":"SN1-GR1（下梁）","d":96.5,"v":-108},{"s":"SN1-GR1（下梁）","d":97.5,"v":-110},{"s":"SN1-GR1（下梁）","d":98.5,"v":-109},{"s":"SN1-GR1（下梁）","d":99.5,"v":-111},{"s":"SN1-GR1（下梁）","d":100.5,"v":-110},{"s":"SN1-GR1（下梁）","d":101.5,"v":-112},{"s":"SN1-GR1（下梁）","d":102.5,"v":-110},{"s":"SN1-GR1（下梁）","d":103.5,"v":-112},{"s":"SN1-GR1（下梁）","d":104.5,"v":-111},{"s":"SN1-GR1（下梁）","d":105.5,"v":-110},{"s":"SN1-GR1（下梁）","d":106.5,"v":-112},{"s":"SN1-GR1（下梁）","d":107.5,"v":-111},{"s":"SN1-GR1（下梁）","d":108.5,"v":-112},{"s":"SN1-GR1（下梁）","d":109.5,"v":-110},{"s":"SN1-GR1（下梁）","d":110.5,"v":-112},{"s":"SN1-GR1（下梁）","d":111.5,"v":-110},{"s":"SN1-GR1（下梁）","d":112.5,"v":-113},{"s":"SN1-GR1（下梁）","d":113.5,"v":-115},{"s":"SN1-GR1（下梁）","d":114.5,"v":-113},{"s":"SN1-GR1（下梁）","d":115.5,"v":-112},{"s":"SN1-GR1（下梁）","d":116.5,"v":-110},{"s":"SN1-GR1（下梁）","d":117.5,"v":-111},{"s":"SN1-GR1（下梁）","d":118.5,"v":-109},{"s":"SN1-GR1（下梁）","d":119.5,"v":-110},{"s":"SN1-GR1（下梁）","d":120.5,"v":-108},{"s":"SN1-GR1（下梁）","d":121.5,"v":-109},{"s":"SN1-GR1（下梁）","d":122.5,"v":-110}
    ],
    "series": [
      {"s": "SN1-GN1"}, {"s": "SN1-GR1"}, {"s": "SR1-GR1"}, {"s": "SN1-GR1（下梁）"}
    ],
    "arrows": [
      {"x": 130.8, "top": -107, "bot": -134, "lab": "30"},
      {"x": 130.8, "top": -134.5, "bot": -148, "lab": "10"},
      {"x": 137.3, "top": -106, "bot": -148, "lab": "40"}
    ]
  },
  "layer": [
    {
      "data": {"name": "creep"},
      "mark": {"type": "point", "filled": true, "fill": "white", "stroke": "black", "strokeWidth": 2, "size": 165, "opacity": 1},
      "encoding": {
        "x": {
          "field": "d", "type": "quantitative",
          "scale": {"domain": [0, 126], "nice": false, "zero": false},
          "axis": {
            "values": [0, 7, 14, 21, 28, 35, 42, 49, 56, 63, 70, 77, 84, 91, 98, 105, 112, 119, 126],
            "labelFont": "Liberation Sans Narrow, DejaVu Sans Condensed, sans-serif",
            "labelFontSize": 24,
            "labelPadding": 20,
            "title": "材齢（日）",
            "titleFontSize": 28,
            "titleX": 448,
            "titleY": 57,
            "titleAlign": "center",
            "titleBaseline": "top"
          }
        },
        "y": {
          "field": "v", "type": "quantitative",
          "scale": {"domain": [-180, 0], "nice": false, "zero": false},
          "axis": {
            "values": [-180, -160, -140, -120, -100, -80, -60, -40, -20, 0],
            "labelExpr": "datum.value < 0 ? '—' + (-datum.value) : datum.label",
            "labelFont": "Liberation Sans, sans-serif",
            "labelFontSize": 24,
            "labelPadding": 25,
            "title": ["単位クリープひずみ", "（×10⁻⁶／N／㎜²）"],
            "titleFontSize": 29,
            "titleLineHeight": 40,
            "titleAngle": 270,
            "titleX": -164,
            "titleY": 290,
            "titleAlign": "center",
            "titleBaseline": "top"
          }
        },
        "shape": {
          "field": "s", "type": "nominal",
          "scale": {
            "domain": ["SN1-GN1", "SN1-GR1", "SR1-GR1", "SN1-GR1（下梁）"],
            "range": ["square", "diamond", "triangle-up", "circle"]
          },
          "legend": null
        }
      }
    },
    {
      "data": {"values": [{}]},
      "mark": {"type": "rect", "fill": "black"},
      "encoding": {
        "x": {"datum": 79.4, "type": "quantitative"},
        "x2": {"datum": 125.4},
        "y": {"datum": 5.5, "type": "quantitative"},
        "y2": {"datum": -53.3}
      }
    },
    {
      "data": {"values": [{}]},
      "mark": {"type": "rect", "fill": "white", "stroke": "black", "strokeWidth": 1.2},
      "encoding": {
        "x": {"datum": 78.5, "type": "quantitative"},
        "x2": {"datum": 124.6},
        "y": {"datum": 7.6, "type": "quantitative"},
        "y2": {"datum": -51.3}
      }
    },
    {
      "data": {"name": "series"},
      "transform": [
        {"window": [{"op": "row_number", "as": "i"}]},
        {"calculate": "13.38 - 14.34 * datum.i", "as": "ly"}
      ],
      "layer": [
        {
          "mark": {"type": "rule", "stroke": "black", "strokeWidth": 1.6},
          "encoding": {
            "x": {"datum": 83.5, "type": "quantitative"},
            "x2": {"datum": 91.2},
            "y": {"field": "ly", "type": "quantitative"}
          }
        },
        {
          "mark": {"type": "point", "filled": true, "fill": "white", "stroke": "black", "strokeWidth": 1.6, "size": 120, "opacity": 1},
          "encoding": {
            "x": {"datum": 87.35, "type": "quantitative"},
            "y": {"field": "ly", "type": "quantitative"},
            "shape": {"field": "s", "type": "nominal", "legend": null}
          }
        },
        {
          "mark": {"type": "text", "align": "left", "baseline": "middle", "fontSize": 27, "font": "Liberation Sans, Noto Sans CJK JP, sans-serif", "color": "black"},
          "encoding": {
            "x": {"datum": 92.5, "type": "quantitative"},
            "y": {"field": "ly", "type": "quantitative"},
            "text": {"field": "s"}
          }
        }
      ]
    },
    {
      "data": {"name": "arrows"},
      "mark": {"type": "rule", "stroke": "black", "strokeWidth": 2},
      "encoding": {
        "x": {"field": "x", "type": "quantitative"},
        "y": {"field": "top", "type": "quantitative"},
        "y2": {"field": "bot"}
      }
    },
    {
      "data": {"name": "arrows"},
      "mark": {"type": "point", "shape": "M0,-1L-0.8,1L0.8,1Z", "size": 225, "filled": true, "fill": "black", "stroke": "black", "strokeWidth": 0.5, "opacity": 1, "yOffset": 7.5},
      "encoding": {
        "x": {"field": "x", "type": "quantitative"},
        "y": {"field": "top", "type": "quantitative"}
      }
    },
    {
      "data": {"name": "arrows"},
      "mark": {"type": "point", "shape": "M0,1L-0.8,-1L0.8,-1Z", "size": 225, "filled": true, "fill": "black", "stroke": "black", "strokeWidth": 0.5, "opacity": 1, "yOffset": -7.5},
      "encoding": {
        "x": {"field": "x", "type": "quantitative"},
        "y": {"field": "bot", "type": "quantitative"}
      }
    },
    {
      "data": {"name": "arrows"},
      "transform": [
        {"filter": "datum.lab !== '40'"},
        {"calculate": "(datum.top + datum.bot) / 2", "as": "mid"}
      ],
      "mark": {"type": "text", "angle": 270, "fontSize": 28, "font": "Liberation Sans Narrow, DejaVu Sans Condensed, sans-serif", "color": "black", "align": "center", "baseline": "middle", "xOffset": -18},
      "encoding": {
        "x": {"field": "x", "type": "quantitative"},
        "y": {"field": "mid", "type": "quantitative"},
        "text": {"field": "lab"}
      }
    },
    {
      "data": {"name": "arrows"},
      "transform": [
        {"filter": "datum.lab === '40'"},
        {"calculate": "(datum.top + datum.bot) / 2", "as": "mid"}
      ],
      "mark": {"type": "text", "angle": 270, "fontSize": 24, "font": "Liberation Sans, sans-serif", "color": "black", "align": "center", "baseline": "middle", "xOffset": -22},
      "encoding": {
        "x": {"field": "x", "type": "quantitative"},
        "y": {"field": "mid", "type": "quantitative"},
        "text": {"field": "lab"}
      }
    }
  ]
}
